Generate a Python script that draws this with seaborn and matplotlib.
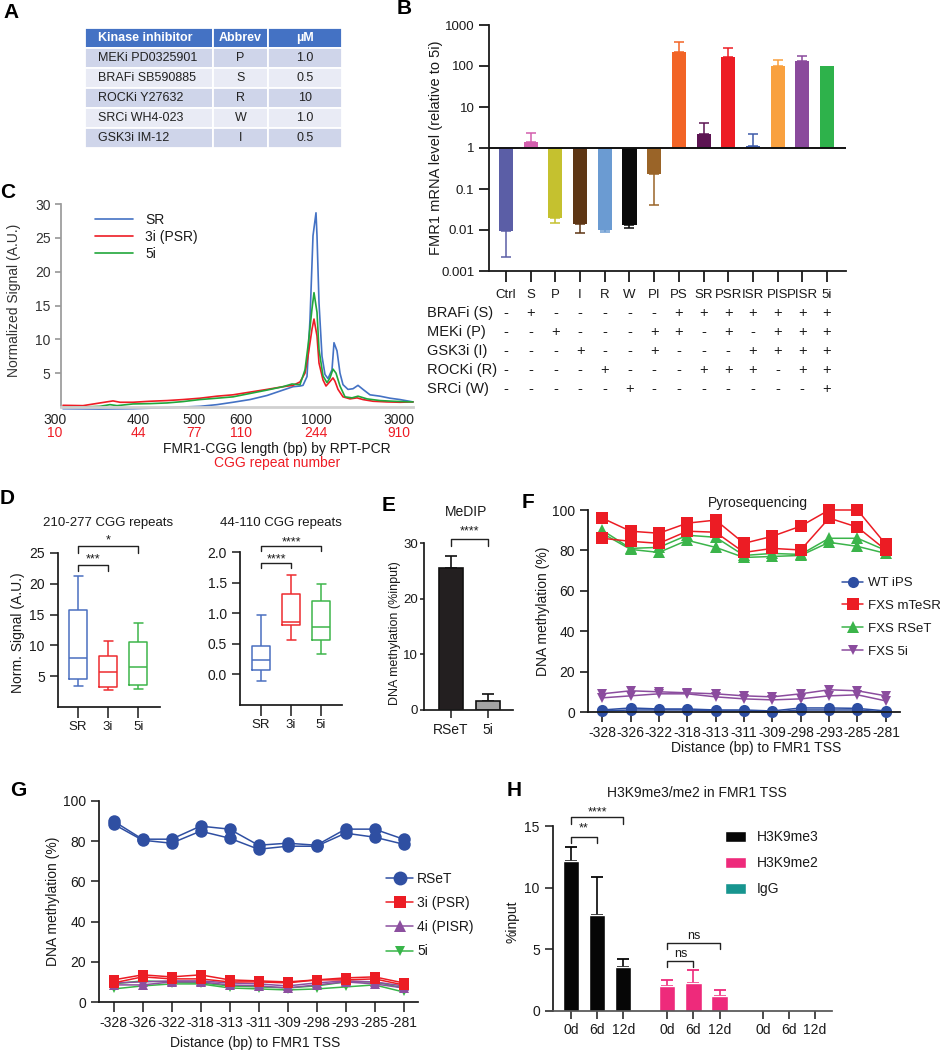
import numpy as np
import pandas as pd
import matplotlib
matplotlib.use("Agg")
import matplotlib.pyplot as plt
import matplotlib.transforms as mtransforms
from matplotlib.lines import Line2D
from matplotlib.patches import Patch
import seaborn as sns

# ---------------- data ----------------
A_header = ["Kinase inhibitor", "Abbrev", "µM"]
A_inhibitor = ["MEKi PD0325901", "BRAFi SB590885", "ROCKi Y27632", "SRCi WH4-023", "GSK3i IM-12"]
A_abbrev = ["P", "S", "R", "W", "I"]
A_conc = ["1.0", "0.5", "10", "1.0", "0.5"]

B_conditions = ["Ctrl", "S", "P", "I", "R", "W", "PI", "PS", "SR", "PSR", "ISR", "PIS", "PISR", "5i"]
B_values = [0.0093, 1.42, 0.020, 0.014, 0.0102, 0.013, 0.228, 224, 2.24, 166, 1.12, 100, 133, 100]
B_err_end = [0.0022, 2.37, 0.0145, 0.0085, 0.0087, 0.011, 0.041, 378, 4.0, 275, 2.15, 142, 172, None]
B_colors = ["#5B5EA6", "#D35FAE", "#C5C12F", "#5E3614", "#6B9BD2", "#0A0A0A", "#9A6428",
            "#F26426", "#5C1452", "#ED1C24", "#3E5BA9", "#F9A13F", "#8A4A9C", "#2EB24B"]
B_rows = ["BRAFi (S)", "MEKi (P)", "GSK3i (I)", "ROCKi (R)", "SRCi (W)"]
B_signs = ["-+-----+++++++",
           "--+---++-+-+++",
           "---+--+---++++",
           "----+---+++-++",
           "-----+-------+"]

C_bp_labels = ["300", "400", "500", "600", "1000", "3000"]
C_cgg_labels = ["10", "44", "77", "110", "244", "910"]
C_sr_x = [2, 39, 72, 106, 139, 156, 172, 189, 206, 222, 232, 239, 242, 246, 249, 252, 255, 256, 258, 261,
          264, 267, 271, 273, 276, 279, 282, 287, 292, 297, 302, 309, 319, 329, 339, 352]
C_sr_y = [-0.25, -0.3, -0.25, -0.1, 0.1, 0.35, 0.7, 1.1, 1.7, 2.5, 3.0, 3.1, 3.2, 4.5, 13, 25.3, 28.7, 25.3, 15.4, 7.5,
          4.8, 4.2, 5.5, 9.5, 8.3, 5.0, 3.3, 2.6, 2.7, 3.2, 2.6, 1.8, 1.6, 1.3, 1.1, 0.75]
C_3i_x = [2, 22, 39, 52, 59, 72, 89, 106, 122, 139, 156, 172, 189, 206, 222, 232, 239, 244, 247, 251, 253, 256,
          258, 262, 265, 268, 272, 274, 277, 282, 289, 296, 302, 312, 326, 339, 352]
C_3i_y = [0.25, 0.2, 0.6, 0.9, 0.7, 0.7, 0.85, 0.95, 1.1, 1.3, 1.6, 1.8, 2.2, 2.6, 3.0, 3.2, 3.7, 5.0, 7.5, 11.5,
          13.0, 10.5, 6.5, 4.0, 3.1, 3.6, 4.3, 3.8, 2.6, 1.5, 1.2, 1.35, 1.1, 0.85, 0.75, 0.7, 0.75]
C_5i_x = [2, 22, 39, 49, 56, 72, 89, 106, 122, 139, 156, 172, 189, 206, 222, 231, 239, 244, 247, 251, 253, 256,
          258, 262, 266, 269, 272, 275, 279, 284, 291, 297, 306, 319, 332, 352]
C_5i_y = [0.0, 0.0, 0.1, 0.35, 0.2, 0.45, 0.5, 0.6, 0.8, 1.1, 1.3, 1.5, 2.0, 2.5, 3.0, 3.4, 3.3, 5.5, 9.0, 14.5,
          16.9, 14.0, 8.5, 4.6, 3.6, 4.3, 5.6, 5.0, 3.1, 1.5, 1.35, 1.6, 1.2, 0.95, 0.85, 0.75]

D_groups = ["SR", "3i", "5i"]
# five-number summaries (min, q1, median, q3, max)
D_high_SR = [3.4, 4.5, 7.9, 15.7, 21.3]
D_high_3i = [2.7, 3.25, 5.7, 8.3, 10.7]
D_high_5i = [2.9, 3.6, 6.5, 10.5, 13.7]
D_mid_SR = [-0.10, 0.08, 0.24, 0.46, 0.97]
D_mid_3i = [0.57, 0.80, 0.86, 1.31, 1.63]
D_mid_5i = [0.33, 0.57, 0.78, 1.20, 1.48]

E_groups = ["RSeT", "5i"]
E_values = [25.5, 1.7]
E_err_end = [27.7, 2.9]

F_sites = ["-328", "-326", "-322", "-318", "-313", "-311", "-309", "-298", "-293", "-285", "-281"]
F_wt_1 = [1.0, 2.0, 1.5, 1.5, 1.0, 1.0, 0.5, 2.0, 2.0, 1.8, 0.5]
F_wt_2 = [0.5, 1.0, 1.0, 1.0, 0.5, 0.5, 0.0, 1.0, 1.0, 1.0, 0.0]
F_mt_1 = [96, 89.5, 88.5, 93.5, 95, 83.5, 87, 92, 100, 100, 83]
F_mt_2 = [86, 84.5, 83.5, 89.5, 89, 79, 81, 80.2, 96, 91.5, 80.2]
F_rs_1 = [90, 81, 81.5, 87.5, 86.5, 77.5, 78.5, 78, 86, 86, 80]
F_rs_2 = [88.5, 80.5, 79, 85, 81.5, 76.5, 77, 77.5, 84, 82, 78.5]
F_5i_1 = [9, 10.5, 10, 9.5, 9, 8, 7.5, 9, 11, 10.5, 8]
F_5i_2 = [7, 8, 9, 9, 7.5, 6.5, 6, 6.5, 8, 8.5, 5.5]

G_rs_1 = [90, 81, 81, 87.5, 86, 78, 79, 78, 86, 86, 81]
G_rs_2 = [88.5, 80.5, 79, 85, 81.5, 76, 77.5, 77.5, 84, 82, 78.5]
G_3i_1 = [11, 13.5, 12.5, 13.5, 11, 10.5, 10, 11, 12, 12.5, 9.5]
G_3i_2 = [9.5, 12.5, 11.5, 11.5, 10, 10, 9.5, 11, 11, 11.5, 8.5]
G_4i_1 = [9.5, 10, 10.5, 10.5, 9.5, 9, 8, 9.5, 10.5, 10, 8]
G_4i_2 = [8.5, 8.5, 10, 10, 8.5, 8, 7, 8.5, 10, 9, 7]
G_5i_1 = [9, 10.5, 10, 9.5, 8, 7.5, 7, 8, 10, 10, 7]
G_5i_2 = [6.5, 8, 9, 9, 7, 6.5, 6, 6.5, 7.5, 8.5, 5]

H_days = ["0d", "6d", "12d", "0d", "6d", "12d", "0d", "6d", "12d"]
H_marks = ["H3K9me3"] * 3 + ["H3K9me2"] * 3 + ["IgG"] * 3
H_values = [12.2, 7.8, 3.6, 2.0, 2.3, 1.2, 0.05, 0.05, 0.05]
H_err_end = [13.3, 10.9, 4.2, 2.55, 3.3, 1.7, None, None, None]

# ---------------- style ----------------
sns.set_theme(style="ticks")
plt.rcParams["font.family"] = ["Liberation Sans", "DejaVu Sans"]
plt.rcParams["axes.edgecolor"] = "#1a1a1a"
plt.rcParams["text.color"] = "#1a1a1a"
plt.rcParams["xtick.color"] = "#1a1a1a"
plt.rcParams["ytick.color"] = "#1a1a1a"
plt.rcParams["axes.labelcolor"] = "#1a1a1a"

FW, FH = 940, 1050
fig = plt.figure(figsize=(FW / 100, FH / 100), dpi=100)


def pax(l, t, r, b):
    return fig.add_axes([l / FW, 1 - b / FH, (r - l) / FW, (b - t) / FH])


def fy(y):
    return 1 - y / FH


def ptext(x, y, s, **kw):
    kw.setdefault("ha", "center")
    kw.setdefault("va", "center")
    return fig.text(x / FW, fy(y), s, **kw)


def bracket(ax, x1, x2, y, h, text, ty, fs=9):
    ax.plot([x1, x1, x2, x2], [y - h, y, y, y - h], color="#222222", lw=1.0, clip_on=False)
    ax.text((x1 + x2) / 2, ty, text, ha="center", va="center", fontsize=fs, clip_on=False)


# panel letters
for lab, x, y in [("A", 3, 12), ("B", 397, 9), ("C", 0, 192), ("D", 0, 498), ("E", 382, 505),
                  ("F", 522, 503), ("G", 10, 790), ("H", 507, 790)]:
    ptext(x, y, lab, ha="left", fontsize=15, fontweight="bold", color="black")

# ---------------- A: table ----------------
axA = pax(85, 28, 342, 148)
axA.axis("off")
cell_text = [[a, b, c] for a, b, c in zip(A_inhibitor, A_abbrev, A_conc)]
tbl = axA.table(cellText=cell_text, colLabels=A_header, bbox=[0, 0, 1, 1],
                colWidths=[128, 55, 74], cellLoc="center")
tbl.auto_set_font_size(False)
tbl.set_fontsize(9)
for (r, c), cell in tbl.get_celld().items():
    cell.set_edgecolor("white")
    cell.set_linewidth(1.3)
    if r == 0:
        cell.set_facecolor("#4472C4")
        cell.get_text().set_color("white")
        cell.get_text().set_fontweight("bold")
    else:
        cell.set_facecolor("#CFD5EA" if r % 2 == 1 else "#E9EBF5")
        cell.get_text().set_color("#222222")
    if c == 0:
        cell.get_text().set_ha("left")

# ---------------- B: bar chart (log) ----------------
axB = pax(489, 25, 846, 271)
B_log = np.log10(B_values)
sns.barplot(x=B_conditions, y=B_log, hue=B_conditions, palette=B_colors, legend=False,
            width=0.57, saturation=1, linewidth=0, ax=axB)
for i, (v, e, c) in enumerate(zip(B_values, B_err_end, B_colors)):
    if e is None:
        continue
    lv, le = np.log10(v), np.log10(e)
    lo, up = (0, le - lv) if le > lv else (lv - le, 0)
    axB.errorbar(i, lv, yerr=[[lo], [up]], fmt="none", ecolor=c, elinewidth=1.1,
                 capsize=3.5, capthick=1.1, zorder=0)
axB.axhline(0, color="#111111", lw=1.4, zorder=3)
axB.set_ylim(-3, 3)
axB.set_xlim(-0.69, 13.77)
axB.set_yticks(range(-3, 4))
axB.set_yticklabels(["0.001", "0.01", "0.1", "1", "10", "100", "1000"])
sns.despine(ax=axB)
axB.spines["left"].set_linewidth(1.3)
axB.spines["bottom"].set_linewidth(1.3)
axB.tick_params(axis="y", length=7, width=1.3, labelsize=9.5)
axB.tick_params(axis="x", length=8, width=1.3, labelsize=9.5, pad=5)
axB.set_xlabel("")
axB.set_ylabel("FMR1 mRNA level (relative to 5i)", fontsize=10.5)
axB.yaxis.set_label_coords((443 - 489) / 357, 0.5)
trB = mtransforms.blended_transform_factory(axB.transData, fig.transFigure)
for r, (lab, signs) in enumerate(zip(B_rows, B_signs)):
    y = 313 + 19 * r
    ptext(427, y, lab, ha="left", fontsize=10.5)
    for i, s in enumerate(signs):
        axB.text(i, fy(y), s, transform=trB, ha="center", va="center", fontsize=10.5)

# ---------------- C: electropherogram ----------------
axC = pax(61, 204, 413, 407)
for xs, ys, col, lab in [(C_sr_x, C_sr_y, "#4472C4", "SR"),
                         (C_3i_x, C_3i_y, "#EE1C25", "3i (PSR)"),
                         (C_5i_x, C_5i_y, "#21A73B", "5i")]:
    sns.lineplot(x=xs, y=ys, color=col, lw=1.2, ax=axC, label=lab, estimator=None,
                 sort=False, clip_on=False)
axC.set_xlim(0, 352)
axC.set_ylim(0, 30)
axC.set_yticks([5, 10, 15, 20, 25, 30])
axC.set_xticks([])
sns.despine(ax=axC)
axC.spines["left"].set_color("#9a9a9a")
axC.spines["bottom"].set_color("#d0d0d0")
axC.spines["bottom"].set_linewidth(2)
axC.tick_params(axis="y", length=4, color="#9a9a9a", labelsize=10, labelcolor="#333333")
axC.set_xlabel("")
axC.set_ylabel("")
axC.legend(loc="upper left", bbox_to_anchor=((95 - 61) / 352, (407 - 213) / 203), frameon=False,
           fontsize=10, handlelength=2.75, handletextpad=0.85, labelspacing=0.22,
           borderaxespad=0, borderpad=0)
trC = mtransforms.blended_transform_factory(axC.transData, fig.transFigure)
C_tick_pos = [-6, 77, 133, 180, 255, 338]
for p, bp, cg in zip(C_tick_pos, C_bp_labels, C_cgg_labels):
    axC.text(p, fy(420), bp, transform=trC, ha="center", va="center", fontsize=10, color="#222222")
    axC.text(p, fy(433), cg, transform=trC, ha="center", va="center", fontsize=10, color="#EE1C25")
ptext(277, 449, "FMR1-CGG length (bp) by RPT-PCR", fontsize=10)
ptext(277, 463, "CGG repeat number", fontsize=10, color="#EE1C25")
ptext(14, 300, "Normalized Signal (A.U.)", rotation=90, fontsize=10, color="#333333")

# ---------------- D: boxplots ----------------
D_colors = ["#4A6FC0", "#EE2B2F", "#3DB54A"]


def draw_box(ax, stats):
    df = pd.DataFrame({"group": np.repeat(D_groups, 5), "value": np.concatenate(stats)})
    sns.boxplot(data=df, x="group", y="value", hue="group", palette=D_colors, fill=False,
                whis=(0, 100), width=0.6, linewidth=1.1, legend=False, ax=ax)
    sns.despine(ax=ax)
    ax.tick_params(axis="y", length=6, width=1.1, labelsize=10)
    ax.tick_params(axis="x", length=8, width=1.1, labelsize=9.5, pad=2)
    ax.set_xlabel("")
    ax.set_ylabel("")


axD1 = pax(58, 553, 160, 707)
draw_box(axD1, [D_high_SR, D_high_3i, D_high_5i])
axD1.set_ylim(0, 25)
axD1.set_yticks([5, 10, 15, 20, 25])
axD1.set_xlim(-0.67, 2.73)
bracket(axD1, 0, 1, 23.1, 1.1, "***", 24.0, fs=9)
bracket(axD1, 0, 2, 26.1, 1.1, "*", 27.0, fs=9)

axD2 = pax(240, 552, 342, 705)
draw_box(axD2, [D_mid_SR, D_mid_3i, D_mid_5i])
axD2.set_ylim(-0.5, 2.0)
axD2.set_yticks([0.0, 0.5, 1.0, 1.5, 2.0])
axD2.set_yticklabels(["0.0", "0.5", "1.0", "1.5", "2.0"])
axD2.set_xlim(-0.7, 2.7)
bracket(axD2, 0, 1, 1.82, 0.08, "****", 1.88, fs=9)
bracket(axD2, 0, 2, 2.09, 0.08, "****", 2.15, fs=9)
ptext(108, 523, "210-277 CGG repeats", fontsize=9.5)
ptext(281, 523, "44-110 CGG repeats", fontsize=9.5)
ptext(18, 633, "Norm. Signal (A.U.)", rotation=90, fontsize=10)

# ---------------- E: MeDIP ----------------
axE = pax(424, 543, 513, 710)
sns.barplot(x=E_groups, y=E_values, hue=E_groups, palette=["#231F20", "#A3A3A3"], legend=False,
            width=0.65, saturation=1, edgecolor="#111111", linewidth=1.2, ax=axE)
for i, (v, e) in enumerate(zip(E_values, E_err_end)):
    axE.errorbar(i, v, yerr=[[0], [e - v]], fmt="none", ecolor="#111111", elinewidth=1.2,
                 capsize=4.5, capthick=1.2, zorder=0)
axE.set_xlim(-0.73, 1.68)
axE.set_ylim(0, 30)
axE.set_yticks([0, 10, 20, 30])
sns.despine(ax=axE)
axE.tick_params(axis="y", length=3, width=1.1, labelsize=9.5, pad=1.5)
axE.tick_params(axis="x", length=6, width=1.1, labelsize=10, pad=3)
axE.set_xlabel("")
axE.set_ylabel("")
bracket(axE, 0, 1, 30.8, 1.3, "****", 32.1, fs=9)
ptext(466, 512, "MeDIP", fontsize=10)
ptext(395, 633, "DNA methylation (%input)", rotation=90, fontsize=9)


# ---------------- F / G: methylation line plots ----------------
def draw_reps(ax, reps, color, marker, ms):
    n = len(reps[0])
    df = pd.DataFrame({"idx": np.tile(np.arange(n), len(reps)),
                       "rep": np.repeat(np.arange(len(reps)), n),
                       "value": np.concatenate(reps)})
    sns.lineplot(data=df, x="idx", y="value", units="rep", estimator=None, color=color,
                 marker=marker, markersize=ms, markeredgewidth=0, lw=1.1, legend=False,
                 ax=ax, clip_on=False)


axF = pax(588, 510, 900, 712)
F_series = [("WT iPS", [F_wt_1, F_wt_2], "#2D4EA2", "o", 8),
            ("FXS mTeSR", [F_mt_1, F_mt_2], "#EC1C24", "s", 8),
            ("FXS RSeT", [F_rs_1, F_rs_2], "#3BB44A", "^", 8),
            ("FXS 5i", [F_5i_1, F_5i_2], "#8B4C9E", "v", 7.5)]
for name, reps, col, mk, ms in [F_series[3], F_series[0], F_series[2], F_series[1]]:
    draw_reps(axF, reps, col, mk, ms)
axF.set_xlim(-0.5, 10.5)
axF.set_ylim(0, 100)
axF.set_xticks(range(len(F_sites)))
axF.set_xticklabels(F_sites)
axF.set_yticks([0, 20, 40, 60, 80, 100])
sns.despine(ax=axF)
axF.spines["left"].set_linewidth(1.3)
axF.spines["bottom"].set_linewidth(1.3)
axF.tick_params(axis="y", length=6, width=1.2, labelsize=10)
axF.tick_params(axis="x", length=7, width=1.2, labelsize=10, pad=3)
axF.set_xlabel("")
axF.set_ylabel("DNA methylation (%)", fontsize=10)
axF.yaxis.set_label_coords((550 - 588) / 312, 0.5)
handles = [Line2D([], [], color=c, marker=m, ms=ms, mew=0, lw=1.1) for _, _, c, m, ms in F_series]
axF.legend(handles, [s[0] for s in F_series], loc="upper left",
           bbox_to_anchor=((842 - 588) / 312, (712 - 577) / 202), frameon=False, fontsize=9.5,
           handlelength=1.6, handletextpad=0.36, labelspacing=0.8, borderaxespad=0, borderpad=0)
ptext(758, 503, "Pyrosequencing", fontsize=10)
ptext(756, 748, "Distance (bp) to FMR1 TSS", fontsize=10)

axG = pax(99, 801, 418, 1002)
G_series = [("RSeT", [G_rs_1, G_rs_2], "#2F4FA2", "o", 9),
            ("3i (PSR)", [G_3i_1, G_3i_2], "#EC1C24", "s", 7.5),
            ("4i (PISR)", [G_4i_1, G_4i_2], "#8C4F9F", "^", 7),
            ("5i", [G_5i_1, G_5i_2], "#38B549", "v", 6)]
for name, reps, col, mk, ms in [G_series[3], G_series[2], G_series[1], G_series[0]]:
    draw_reps(axG, reps, col, mk, ms)
axG.set_xlim(-0.5, 10.5)
axG.set_ylim(0, 100)
axG.set_xticks(range(len(F_sites)))
axG.set_xticklabels(F_sites)
axG.set_yticks([0, 20, 40, 60, 80, 100])
sns.despine(ax=axG)
axG.tick_params(axis="y", length=6, width=1.1, labelsize=10)
axG.tick_params(axis="x", length=7, width=1.1, labelsize=10, pad=3)
axG.set_xlabel("")
axG.set_ylabel("DNA methylation (%)", fontsize=10)
axG.yaxis.set_label_coords((60 - 99) / 319, 0.5)
handles = [Line2D([], [], color=c, marker=m, ms=ms + 1, mew=0, lw=1.1) for _, _, c, m, ms in G_series]
axG.legend(handles, [s[0] for s in G_series], loc="upper left",
           bbox_to_anchor=((386 - 99) / 319, (1002 - 872) / 201), frameon=False, fontsize=10,
           handlelength=1.95, handletextpad=0.3, labelspacing=0.73, borderaxespad=0, borderpad=0)
ptext(255, 1043, "Distance (bp) to FMR1 TSS", fontsize=10)

# ---------------- H: ChIP ----------------
H_xpos = [0, 1, 2, 3.69, 4.69, 5.69, 7.35, 8.35, 9.35]
H_palette = {"H3K9me3": "#060606", "H3K9me2": "#EE2A7B", "IgG": "#17958F"}
axH = pax(553, 826, 832, 1011)
sns.barplot(x=H_xpos, y=H_values, hue=H_marks, palette=H_palette, native_scale=True, dodge=False,
            width=0.62, saturation=1, legend=False, ax=axH)
for xp, v, e, m in zip(H_xpos, H_values, H_err_end, H_marks):
    if e is None:
        continue
    axH.errorbar(xp, v, yerr=[[0], [e - v]], fmt="none", ecolor=H_palette[m], elinewidth=1.2,
                 capsize=4.3, capthick=1.3, zorder=0)
axH.set_xlim(-0.69, 10.0)
axH.set_ylim(0, 15)
axH.set_yticks([0, 5, 10, 15])
axH.set_xticks(H_xpos)
axH.set_xticklabels(H_days)
sns.despine(ax=axH)
axH.spines["bottom"].set_color("#555555")
axH.tick_params(axis="y", length=6, width=1.1, labelsize=10)
axH.tick_params(axis="x", length=6, width=1.1, labelsize=10, pad=3)
axH.set_xlabel("")
axH.set_ylabel("")
bracket(axH, 0, 1, 14.1, 0.5, "**", 14.8, fs=9)
bracket(axH, 0, 2, 15.7, 0.5, "****", 16.1, fs=9)
bracket(axH, 3.69, 4.69, 4.03, 0.45, "ns", 4.6, fs=9)
bracket(axH, 3.69, 5.69, 5.5, 0.45, "ns", 6.05, fs=9)
hpatches = [Patch(facecolor=H_palette[k]) for k in ["H3K9me3", "H3K9me2", "IgG"]]
axH.legend(hpatches, ["H3K9me3", "H3K9me2", "IgG"], loc="upper left",
           bbox_to_anchor=((725 - 553) / 279, (1011 - 830) / 185), frameon=False, fontsize=10,
           handlelength=1.5, handleheight=0.85, handletextpad=0.8, labelspacing=0.87,
           borderaxespad=0, borderpad=0)
ptext(697, 793, "H3K9me3/me2 in FMR1 TSS", fontsize=10)
ptext(513, 922, "%input", rotation=90, fontsize=10)

fig.savefig("out.png", dpi=100)
